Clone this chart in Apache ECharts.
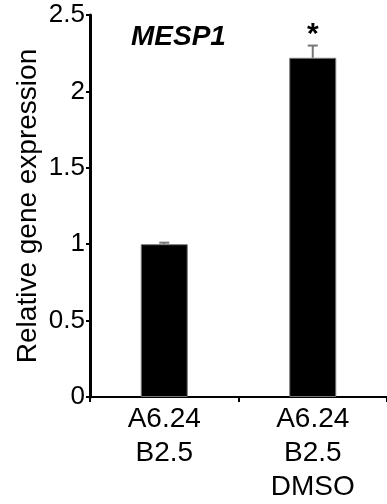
<!DOCTYPE html>
<html>
<head>
<meta charset="utf-8">
<script src="https://cdn.jsdelivr.net/npm/echarts@6/dist/echarts.min.js"></script>
<style>
  html, body { margin: 0; padding: 0; background: #fff; }
  #chart { width: 387px; height: 504px; }
</style>
</head>
<body>
<div id="chart"></div>
<script>
// data
var categories = ['A6.24\nB2.5', 'A6.24\nB2.5\nDMSO'];
var means = [1.0, 2.22];
var errors = [0.01, 0.08];
var marks = ['', '*'];
var yTicks = [0, 0.5, 1, 1.5, 2, 2.5];

var font = '"Liberation Sans", Arial, sans-serif';

var errorData = means.map(function (m, i) {
  return [i, m, errors[i]];
});

var chart = echarts.init(document.getElementById('chart'), null, {renderer: 'canvas'});

var option = {
  animation: false,
  backgroundColor: '#fff',
  title: {
    text: 'MESP1',
    left: 126,
    top: 18,
    textStyle: {
      fontFamily: font,
      fontSize: 28,
      fontWeight: 'bold',
      fontStyle: 'italic',
      color: '#000'
    }
  },
  grid: {left: 90, width: 302, top: 15, bottom: 106, containLabel: false},
  xAxis: {
    type: 'category',
    data: categories,
    axisLine: {lineStyle: {color: '#000', width: 2}},
    axisTick: {show: true, length: 5, lineStyle: {color: '#000', width: 2}},
    axisLabel: {
      color: '#000',
      fontFamily: font,
      fontSize: 28,
      lineHeight: 34,
      margin: 5
    }
  },
  yAxis: {
    type: 'value',
    min: yTicks[0],
    max: yTicks[yTicks.length - 1],
    interval: 0.5,
    name: 'Relative gene expression',
    nameLocation: 'middle',
    nameGap: 48,
    nameMoveOverlap: false,
    nameTextStyle: {color: '#000', fontFamily: font, fontSize: 28},
    axisLine: {show: true, lineStyle: {color: '#000', width: 3}},
    axisTick: {show: true, length: 4, lineStyle: {color: '#000', width: 2}},
    splitLine: {show: false},
    axisLabel: {
      color: '#000',
      fontFamily: font,
      fontSize: 26,
      margin: 5,
      padding: [14, 0, 0, 0]
    }
  },
  series: [
    {
      type: 'bar',
      data: means,
      barWidth: 47,
      itemStyle: {color: '#000', borderColor: '#777', borderWidth: 1}
    },
    {
      type: 'custom',
      data: errorData,
      z: 10,
      renderItem: function (params, api) {
        var x = api.value(0);
        var m = api.value(1);
        var e = api.value(2);
        var mk = marks[params.dataIndex];
        var base = api.coord([x, m]);
        var top = api.coord([x, m + e]);
        var cap = 5;
        var children = [
          {type: 'line', shape: {x1: base[0], y1: base[1], x2: top[0], y2: top[1]},
            style: {stroke: '#777', lineWidth: 2}},
          {type: 'line', shape: {x1: top[0] - cap, y1: top[1], x2: top[0] + cap, y2: top[1]},
            style: {stroke: '#777', lineWidth: 2}}
        ];
        if (mk) {
          children.push({
            type: 'text',
            x: top[0],
            y: top[1] - 11,
            style: {
              text: mk,
              fontFamily: font,
              fontSize: 30,
              fontWeight: 'bold',
              fill: '#000',
              align: 'center',
              verticalAlign: 'middle'
            }
          });
        }
        return {type: 'group', children: children};
      }
    }
  ]
};

chart.setOption(option);
</script>
</body>
</html>
